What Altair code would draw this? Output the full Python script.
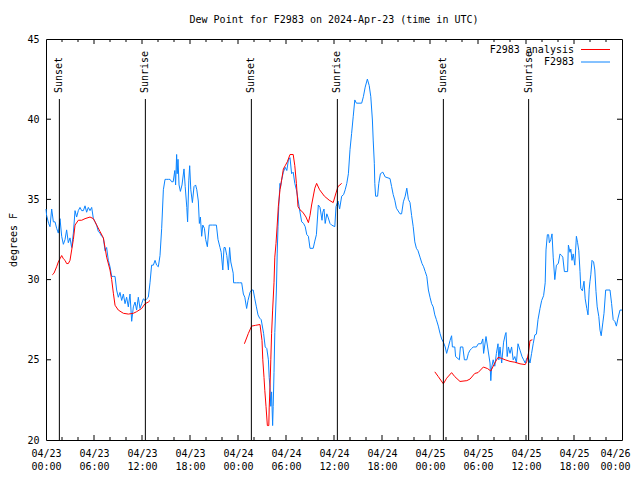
import altair as alt
import pandas as pd

W, H = 576, 401
FONT = "DejaVu Sans Mono"

blue_hours = [0.0, 0.08, 0.33, 0.5, 0.71, 0.92, 1.13, 1.33, 1.54, 1.75, 1.96, 2.17, 2.38, 2.58, 2.79, 3.0, 3.21, 3.42, 3.63, 3.83,
              4.04, 4.25, 4.46, 4.67, 4.88, 5.08, 5.29, 5.5, 5.71, 5.92, 6.13, 6.33, 6.54, 6.75, 6.96, 7.17, 7.38, 7.58, 7.79,
              8.0, 8.21, 8.42, 8.63, 8.83, 9.04, 9.25, 9.46, 9.67, 9.88, 10.08, 10.29, 10.5, 10.71, 10.92, 11.13, 11.33, 11.54,
              11.75, 11.96, 12.17, 12.38, 12.58, 12.79, 13.0, 13.2, 13.42, 13.63, 13.83, 14.04, 14.25, 14.46, 14.67, 14.88,
              15.1, 15.3, 15.5, 15.7, 15.9, 16.1, 16.2, 16.33, 16.4, 16.5, 16.63, 16.8, 17.0, 17.25, 17.4, 17.6, 17.7, 17.85,
              17.96, 18.1, 18.3, 18.5, 18.7, 18.85, 19.04, 19.17, 19.3, 19.46, 19.6, 19.8, 19.96, 20.17, 20.4, 20.8, 21.3,
              21.5, 21.75, 21.9, 22.1, 22.25, 22.4, 22.6, 22.8, 22.95, 23.1, 23.4, 23.45, 23.8, 24.2, 24.46, 24.67, 24.85,
              25.08, 25.25, 25.5, 25.7, 25.9, 26.1, 26.3, 26.5, 26.7, 26.9, 27.2, 27.4, 27.6, 27.8, 27.9, 28.0, 28.1, 28.2,
              28.33, 28.4, 28.5, 28.6, 28.8, 28.9, 29.0, 29.1, 29.25, 29.3, 29.45, 29.67, 29.9, 30.1, 30.3, 30.5, 30.7, 30.9,
              31.1, 31.3, 31.5, 31.7, 31.96, 32.2, 32.4, 32.6, 32.8, 33.0, 33.4, 33.6, 33.8, 34.04, 34.25, 34.5, 34.6, 34.75,
              34.9, 35.1, 35.25, 35.5, 35.7, 36.1, 36.25, 36.5, 36.7, 36.96, 37.2, 37.4, 37.6, 37.8, 38.0, 38.2, 38.4, 38.6,
              38.8, 39.46, 39.67, 39.9, 40.17, 40.4, 40.6, 40.8, 40.9, 41.04, 41.1, 41.2, 41.45, 41.6, 41.8, 42.1, 42.4, 43.0,
              43.2, 43.4, 43.6, 43.8, 44.25, 44.45, 44.67, 44.9, 45.1, 45.3, 45.5, 45.7, 45.9, 46.1, 46.3, 46.5, 46.75, 47.0,
              47.2, 47.4, 47.6, 47.8, 48.0, 48.2, 48.4, 48.6, 48.8, 49.04, 49.25, 49.46, 49.67, 49.9, 50.08, 50.3, 50.5, 50.7,
              50.8, 51.1, 51.2, 51.67, 51.8, 52.1, 52.3, 52.6, 52.8, 53.0, 53.2, 53.4, 53.8, 54.04, 54.4, 54.6, 54.7, 55.0,
              55.2, 55.5, 55.6, 55.7, 55.9, 56.1, 56.3, 56.5, 56.6, 56.75, 56.96, 57.2, 57.4, 57.5, 57.65, 57.8, 58.0, 58.2,
              58.4, 58.6, 58.8, 59.0, 59.25, 59.5, 59.7, 59.9, 60.1, 60.3, 60.5, 60.7, 60.9, 61.1, 61.3, 61.5, 61.75, 61.96,
              62.2, 62.4, 62.5, 62.67, 62.83, 62.92, 63.1, 63.25, 63.4, 63.6, 63.8, 64.04, 64.25, 64.45, 64.6, 64.8, 65.2,
              65.3, 65.5, 65.6, 65.75, 65.9, 66.1, 66.3, 66.45, 66.6, 66.75, 66.85, 67.05, 67.25, 67.4, 67.6, 67.75, 67.9,
              68.0, 68.1, 68.25, 68.45, 68.6, 68.75, 68.9, 69.1, 69.25, 69.4, 69.6, 69.75, 69.96, 70.5, 70.7, 70.9, 71.1,
              71.3, 71.5, 71.75, 72.0]
blue_values = [34.4, 34.0, 33.5, 33.3, 34.4, 33.6, 33.6, 33.2, 32.9, 33.8, 32.7, 32.2, 32.5, 33.1, 32.3, 32.6, 32.0, 32.9, 34.3, 33.9,
               34.3, 34.5, 34.3, 34.3, 34.6, 34.2, 34.5, 34.3, 34.5, 33.8, 33.6, 33.4, 33.0, 32.9, 32.7, 32.6, 31.8, 32.0, 31.2,
               30.8, 30.2, 30.2, 30.2, 29.35, 28.9, 29.2, 28.7, 29.1, 28.5, 28.9, 28.3, 29.1, 27.4, 28.3, 28.6, 28.1, 28.9,
               28.2, 28.5, 28.8, 28.7, 28.8, 28.9, 29.8, 30.9, 30.9, 31.2, 30.9, 30.8, 31.5, 33.2, 35.6, 36.25,
               36.25, 36.25, 36.25, 36.1, 36.1, 36.8, 35.9, 37.8, 36.6, 37.5, 35.9, 35.5, 35.9, 36.9, 35.8, 34.5, 33.6, 36.2,
               37.1, 35.6, 34.8, 35.8, 35.9, 35.6, 34.9, 33.5, 33.9, 32.7, 33.4, 33.2, 32.5, 32.05, 33.4, 33.4, 33.4,
               32.5, 32.0, 31.7, 30.6, 32.0, 32.0, 31.5, 30.6, 32.0, 31.1, 30.4, 29.8, 29.8, 29.8, 29.8, 29.1, 28.9,
               28.2, 28.7, 29.2, 29.35, 29.35, 28.8, 28.3, 27.8, 27.6, 27.5, 26.65, 25.8, 25.7, 25.0, 23.9, 23.3, 22.1, 23.0,
               20.9, 22.1, 24.2, 26.7, 29.35, 31.6, 33.3, 34.65, 36.0, 35.7, 36.2, 36.7, 37.0, 36.8, 37.45, 37.6, 36.6, 36.7,
               36.0, 35.6, 35.0, 34.35, 33.6, 33.5, 33.3, 32.8, 32.7, 31.95, 31.95, 32.4, 32.8, 34.65, 34.5, 33.7, 34.2, 34.4,
               33.5, 34.1, 33.9, 33.5, 33.4, 33.3, 34.55, 34.9, 34.4, 35.2, 35.3, 35.6, 36.0, 36.6, 38.1, 39.1, 40.15, 41.2,
               41.0, 41.0, 41.4, 42.0, 42.5, 42.1, 41.4, 39.95, 38.7, 37.25, 36.0, 35.2, 35.2, 36.0, 36.6, 36.7, 36.4, 36.3,
               35.8, 35.3, 34.95, 34.45, 34.1, 34.1, 34.85, 35.2, 35.7, 35.0, 34.8, 34.0, 33.3, 32.35, 31.95, 31.8, 31.4, 31.0,
               30.8, 30.5, 30.2, 29.35, 28.9, 28.5, 28.3, 27.8, 27.5, 27.1, 26.65, 26.3, 26.1, 25.8, 25.4, 25.8, 26.2, 26.5,
               25.8, 25.8, 25.2, 25.0, 25.8, 25.8, 25.0, 25.0, 25.4, 25.6, 25.7, 25.8, 25.8, 26.0, 26.0, 26.3, 25.4, 26.45,
               25.8, 24.8, 23.7, 24.5, 25.0, 24.6, 25.4, 26.0, 25.0, 25.8, 24.8, 26.1, 26.55, 26.7, 25.2, 25.8, 25.4, 25.8,
               25.0, 25.2, 24.8, 26.0, 25.6, 25.2, 25.0, 24.8, 25.1, 25.1, 24.8, 25.4, 26.0, 26.55, 26.6, 27.5, 28.2, 28.7,
               29.0, 29.8, 31.85, 32.8, 32.8, 32.3, 32.5, 32.85, 31.4, 30.0, 30.9, 31.0, 31.6, 31.5, 31.4, 30.5, 30.5,
               32.15, 31.7, 31.9, 31.2, 31.6, 30.9, 32.7, 32.3, 31.8, 30.5, 29.45, 29.3, 29.9, 28.8, 28.2, 27.8, 29.4,
               29.9, 30.3, 31.2, 31.1, 30.6, 29.25, 28.3, 27.7, 26.85, 26.5, 27.3, 27.9, 29.35, 29.35, 28.5, 27.5, 27.4,
               27.1, 27.6, 28.1, 28.1]

red1_hours = [0.79, 1.0, 1.33, 1.54, 1.75, 1.96, 2.17, 2.38, 2.58, 2.79, 3.0, 3.21, 3.42, 3.63, 4.04, 4.46, 4.88, 5.5, 5.92,
              6.13, 6.33, 6.75, 7.17, 7.38, 7.58, 8.0, 8.21, 8.42, 8.63, 9.04, 9.67, 10.3, 10.92, 11.33, 11.96, 12.38, 12.79, 13.0]
red1_values = [30.3, 30.4, 30.8, 31.1, 31.3, 31.5, 31.3, 31.2, 31.0, 31.0, 31.2, 31.85, 32.5, 33.4, 33.7, 33.7, 33.8, 33.9, 33.8,
               33.6, 33.4, 33.0, 32.6, 32.0, 31.4, 30.6, 30.0, 29.15, 28.4, 28.1, 27.9, 27.85, 27.9, 28.0, 28.2, 28.5, 28.6, 28.7]
red2_hours = [24.8, 25.3, 25.7, 26.2, 26.75, 27.0, 27.1, 27.25, 27.35, 27.5, 27.67, 27.85, 27.9, 28.0, 28.1, 28.2, 28.33, 28.5,
              28.6, 28.75, 28.9, 29.04, 29.25, 29.45, 29.67, 29.9, 30.17, 30.5, 30.9, 31.1, 31.3, 31.5, 31.75, 32.1, 32.5,
              32.8, 33.0, 33.2, 33.6, 33.83, 34.2, 34.8, 35.4, 35.9, 36.25, 36.5, 36.96]
red2_values = [26.0, 26.65, 27.1, 27.15, 27.2, 26.2, 25.0, 23.9, 23.1, 22.1, 20.9, 20.9, 22.0, 23.3, 25.0, 26.65, 28.1, 29.8,
               31.4, 32.25, 33.4, 34.55, 35.6, 36.2, 36.9, 37.1, 37.35, 37.8, 37.8, 37.1, 36.0, 34.55, 34.35, 34.2, 33.9,
               33.55, 34.0, 34.65, 35.7, 36.0, 35.6, 35.2, 34.95, 34.8, 35.4, 35.8, 36.0]
red3_hours = [48.6, 49.04, 49.67, 50.08, 50.7, 51.1, 51.75, 52.6, 53.0, 53.6, 54.0, 54.67, 55.2, 55.6, 56.1, 56.5, 56.9,
              57.4, 58.0, 58.6, 59.25, 59.9, 60.1, 60.3, 60.5, 60.8]
red3_values = [24.25, 23.95, 23.5, 23.85, 24.2, 23.95, 23.65, 23.7, 23.8, 24.15, 24.2, 24.55, 24.45, 24.3, 24.8, 25.15, 25.1,
               25.0, 24.9, 24.85, 24.75, 24.7, 24.9, 25.4, 26.2, 26.25]

sun_hours = [1.67, 12.42, 25.67, 36.42, 49.67, 60.33]
sun_labels = ["Sunset", "Sunrise", "Sunset", "Sunrise", "Sunset", "Sunrise"]

x_tick_labels = list(range(0, 73, 6))
x_minor = [h for h in range(2, 72, 2) if h % 6 != 0]
x_major = [h for h in range(6, 72, 6)]
y_tick_labels = [20, 25, 30, 35, 40, 45]

blue_df = pd.DataFrame({"hour": blue_hours, "value": blue_values})
red_df = pd.concat([
    pd.DataFrame({"hour": red1_hours, "value": red1_values, "seg": 1}),
    pd.DataFrame({"hour": red2_hours, "value": red2_values, "seg": 2}),
    pd.DataFrame({"hour": red3_hours, "value": red3_values, "seg": 3}),
])
sun_df = pd.DataFrame({"hour": sun_hours, "label": sun_labels})

x_scale = alt.Scale(domain=[0, 72], nice=False, zero=False)
y_scale = alt.Scale(domain=[20, 45], nice=False, zero=False)

label_expr = ("['04/' + (23 + floor(datum.value / 24)), "
              "(datum.value % 24 < 10 ? '0' : '') + (datum.value % 24) + ':00']")

x_axis = alt.Axis(values=x_tick_labels, ticks=False, domain=False, grid=False, labelFlush=False,
                  labelOverlap=False, labelPadding=8, labelLineHeight=13.5, title=None,
                  labelExpr=label_expr,
                  labelOffset=alt.condition("datum.value >= 72", alt.value(-7), alt.value(0)))
y_axis = alt.Axis(values=y_tick_labels, ticks=False, domain=False, grid=False, labelFlush=False,
                  labelPadding=7, title="degrees F", titleX=-33, titleBaseline="middle")

X = alt.X("hour:Q", scale=x_scale, axis=x_axis)
Y = alt.Y("value:Q", scale=y_scale, axis=y_axis)

blue = alt.Chart(blue_df).mark_line(color="#0a84ff", strokeWidth=1).encode(x=X, y=Y)
red = alt.Chart(red_df).mark_line(color="#ff0000", strokeWidth=1).encode(x=X, y=Y, detail="seg:N")

sun_rule = alt.Chart(sun_df).mark_rule(color="black", strokeWidth=1).encode(
    x=X, y=alt.value(H), y2=alt.value(60))
sun_text = alt.Chart(sun_df).mark_text(angle=270, align="left", baseline="middle", font=FONT, fontSize=10,
                                        color="black").encode(
    x=X, y=alt.value(54), text="label:N")

def xticks(vals, length):
    d = pd.DataFrame({"hour": vals})
    bottom = alt.Chart(d).mark_rule(color="black").encode(
        x=X, y=alt.value(H), y2=alt.value(H - length))
    top = alt.Chart(d).mark_rule(color="black").encode(
        x=X, y=alt.value(0), y2=alt.value(length))
    return [bottom, top]

yd = pd.DataFrame({"value": y_tick_labels[1:-1]})
yleft = alt.Chart(yd).mark_rule(color="black").encode(
    y=Y, x=alt.value(0), x2=alt.value(5))
yright = alt.Chart(yd).mark_rule(color="black").encode(
    y=Y, x=alt.value(W), x2=alt.value(W - 5))

leg_names = ["F2983 analysis", "F2983"]
leg_colors = ["#ff0000", "#0a84ff"]
legend_layers = []
for i, (nm, col) in enumerate(zip(leg_names, leg_colors)):
    d = pd.DataFrame({"name": [nm]})
    yy = 10.5 + 12.5 * i
    legend_layers.append(alt.Chart(d).mark_text(align="right", baseline="middle", font=FONT, fontSize=10,
                                                color="black").encode(
        x=alt.value(528), y=alt.value(yy), text="name:N"))
    legend_layers.append(alt.Chart(d).mark_rule(color=col, strokeWidth=1).encode(
        x=alt.value(535), x2=alt.value(564), y=alt.value(yy)))

chart = alt.layer(
    blue, red, sun_rule, sun_text,
    *xticks(x_major, 5), *xticks(x_minor, 3), yleft, yright,
    *legend_layers,
).properties(
    width=W, height=H,
    autosize=alt.AutoSizeParams(type="none"),
    padding={"left": 38, "top": 31, "right": 10, "bottom": 40},
    title=alt.TitleParams(text="Dew Point for F2983 on 2024-Apr-23 (time in UTC)", font=FONT, fontSize=10,
                          fontWeight="normal", anchor="middle", baseline="bottom", offset=3, dy=4, color="black"),
).configure_view(stroke="black", strokeWidth=1).configure_axis(
    labelFont=FONT, labelFontSize=10, labelColor="black", titleFont=FONT, titleFontSize=10,
    titleFontWeight="normal", titleColor="black"
)

chart.save("out.html", embed_options={"renderer": "svg", "actions": False})
